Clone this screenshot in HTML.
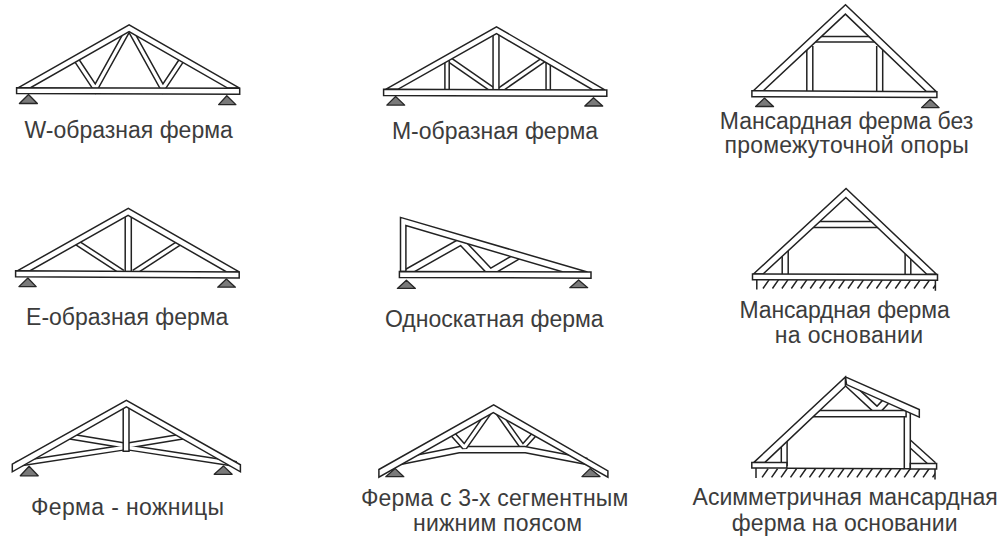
<!DOCTYPE html>
<html><head><meta charset="utf-8"><title>Фермы</title>
<style>html,body{margin:0;padding:0;background:#fff;width:1000px;height:548px;overflow:hidden}svg{display:block}</style>
</head><body>
<svg width="1000" height="548" viewBox="0 0 1000 548">
<polygon points="28.5,94.5 37.4,103.5 19.4,103.5" fill="#7a7a7a" stroke="#262626" stroke-width="1.3" stroke-linejoin="round"/>
<polygon points="226.8,95.8 235.9,104.6 218.6,104.6" fill="#7a7a7a" stroke="#262626" stroke-width="1.3" stroke-linejoin="round"/>
<g fill="none" stroke-linejoin="miter" stroke-miterlimit="10" stroke-linecap="butt"><polyline points="76.2,59.6 95.4,88.5 129.1,27.8" stroke="#222" stroke-width="6.3"/><polyline points="129.1,27.8 162.8,88.5 182,59.6" stroke="#222" stroke-width="6.3"/><polyline points="76.2,59.6 95.4,88.5 129.1,27.8" stroke="#fff" stroke-width="3.3"/><polyline points="129.1,27.8 162.8,88.5 182,59.6" stroke="#fff" stroke-width="3.3"/></g>
<polygon points="18,87.9 129.1,24.85 239.6,88.1 227.63,88.1 129.1,31.7 30.07,87.9" fill="#fff" stroke="#222" stroke-width="1.5" stroke-linejoin="miter" stroke-miterlimit="2"/>
<polygon points="16.6,87.8 239.7,88.2 239.7,94.2 16.6,93.6" fill="#fff" stroke="#222" stroke-width="1.5" stroke-linejoin="miter" stroke-miterlimit="2"/>
<polygon points="395.6,96.5 404.7,105.1 386.8,105.1" fill="#7a7a7a" stroke="#262626" stroke-width="1.3" stroke-linejoin="round"/>
<polygon points="593.5,97.8 602.7,106 584.8,106" fill="#7a7a7a" stroke="#262626" stroke-width="1.3" stroke-linejoin="round"/>
<g fill="none" stroke-linejoin="miter" stroke-miterlimit="10" stroke-linecap="butt"><polyline points="446,57.3 496.5,92.3" stroke="#222" stroke-width="6.3"/><polyline points="547,57.3 496.5,92.3" stroke="#222" stroke-width="6.3"/><polyline points="446,57.3 496.5,92.3" stroke="#fff" stroke-width="3.3"/><polyline points="547,57.3 496.5,92.3" stroke="#fff" stroke-width="3.3"/></g>
<g fill="none" stroke-linejoin="miter" stroke-miterlimit="10" stroke-linecap="butt"><polyline points="447.05,92.5 447.05,58.5" stroke="#222" stroke-width="5.8"/><polyline points="548.2,92.5 548.2,60" stroke="#222" stroke-width="5.8"/><polyline points="447.05,92.5 447.05,58.5" stroke="#fff" stroke-width="2.8"/><polyline points="548.2,92.5 548.2,60" stroke="#fff" stroke-width="2.8"/></g>
<g fill="none" stroke-linejoin="miter" stroke-miterlimit="10" stroke-linecap="butt"><polyline points="496,92.5 496,30" stroke="#222" stroke-width="7.4"/><polyline points="496,92.5 496,30" stroke="#fff" stroke-width="4.4"/></g>
<polygon points="385.6,89.3 496.5,26.8 604.8,89.9 592.96,89.9 496.5,33.7 397.84,89.3" fill="#fff" stroke="#222" stroke-width="1.5" stroke-linejoin="miter" stroke-miterlimit="2"/>
<polygon points="383.6,89.3 606.8,89.9 606.8,96.3 383.6,95.6" fill="#fff" stroke="#222" stroke-width="1.5" stroke-linejoin="miter" stroke-miterlimit="2"/>
<polygon points="764.4,98.1 773.5,106.5 755.6,106.5" fill="#7a7a7a" stroke="#262626" stroke-width="1.3" stroke-linejoin="round"/>
<polygon points="930.3,99.2 939.1,107.6 921.5,107.6" fill="#7a7a7a" stroke="#262626" stroke-width="1.3" stroke-linejoin="round"/>
<g fill="none" stroke-linejoin="miter" stroke-miterlimit="10" stroke-linecap="butt"><polyline points="809.8,94.5 809.8,46" stroke="#222" stroke-width="7.5"/><polyline points="879.7,95 879.7,46" stroke="#222" stroke-width="7.5"/><polyline points="809.8,94.5 809.8,46" stroke="#fff" stroke-width="4.5"/><polyline points="879.7,95 879.7,46" stroke="#fff" stroke-width="4.5"/></g>
<g fill="none" stroke-linejoin="miter" stroke-miterlimit="10" stroke-linecap="butt"><polyline points="813.8,39.25 876.9,39.25" stroke="#222" stroke-width="7.2"/><polyline points="813.8,39.25 876.9,39.25" stroke="#fff" stroke-width="4.2"/></g>
<polygon points="753.4,90.7 845.5,4.8 936.2,91.5 926.37,91.5 845.4,14.1 763.27,90.7" fill="#fff" stroke="#222" stroke-width="1.5" stroke-linejoin="miter" stroke-miterlimit="2"/>
<polygon points="751.9,90.7 936.9,91.8 936.9,97.6 751.9,96.7" fill="#fff" stroke="#222" stroke-width="1.5" stroke-linejoin="miter" stroke-miterlimit="2"/>
<polygon points="27.9,278 36.2,286.6 18.9,286.6" fill="#7a7a7a" stroke="#262626" stroke-width="1.3" stroke-linejoin="round"/>
<polygon points="226.4,279 235.4,287.2 217.7,287.2" fill="#7a7a7a" stroke="#262626" stroke-width="1.3" stroke-linejoin="round"/>
<g fill="none" stroke-linejoin="miter" stroke-miterlimit="10" stroke-linecap="butt"><polyline points="75.3,241.6 122.5,272.4" stroke="#222" stroke-width="6.4"/><polyline points="181.2,241.6 134,272.4" stroke="#222" stroke-width="6.4"/><polyline points="75.3,241.6 122.5,272.4" stroke="#fff" stroke-width="3.4"/><polyline points="181.2,241.6 134,272.4" stroke="#fff" stroke-width="3.4"/></g>
<g fill="none" stroke-linejoin="miter" stroke-miterlimit="10" stroke-linecap="butt"><polyline points="128.25,274.5 128.25,213" stroke="#222" stroke-width="7.6"/><polyline points="128.25,274.5 128.25,213" stroke="#fff" stroke-width="4.6"/></g>
<polygon points="17.7,270.7 128.3,208.3 239.2,271.9 226.62,271.9 128.1,215.4 30.08,270.7" fill="#fff" stroke="#222" stroke-width="1.5" stroke-linejoin="miter" stroke-miterlimit="2"/>
<polygon points="15.6,270.7 239.2,271.9 239.2,277.9 15.6,276.8" fill="#fff" stroke="#222" stroke-width="1.5" stroke-linejoin="miter" stroke-miterlimit="2"/>
<polygon points="406.4,280.2 415.4,288.4 397.4,288.4" fill="#7a7a7a" stroke="#262626" stroke-width="1.3" stroke-linejoin="round"/>
<polygon points="578.6,280 587.7,287.7 569.8,287.7" fill="#7a7a7a" stroke="#262626" stroke-width="1.3" stroke-linejoin="round"/>
<g fill="none" stroke-linejoin="miter" stroke-miterlimit="10" stroke-linecap="butt"><polyline points="403.3,274.3 461.2,241.5 490.3,272.2 519.1,255.3" stroke="#222" stroke-width="7.9"/><polyline points="403.3,274.3 461.2,241.5 490.3,272.2 519.1,255.3" stroke="#fff" stroke-width="4.9"/></g>
<polygon points="400.5,271.6 400.5,217.4 587.4,272 563.1,271.9 405.9,225.6 405.9,271.6" fill="#fff" stroke="#222" stroke-width="1.5" stroke-linejoin="miter" stroke-miterlimit="2"/>
<polygon points="399.4,271.5 591,272 591,278.2 399.4,277.4" fill="#fff" stroke="#222" stroke-width="1.5" stroke-linejoin="miter" stroke-miterlimit="2"/>
<polyline points="756.8,279.7 756.8,289.5" fill="none" stroke="#222" stroke-width="1.5" stroke-linecap="butt"/>
<polyline points="935.4,280.2 935.4,290.8" fill="none" stroke="#222" stroke-width="1.5" stroke-linecap="butt"/>
<clipPath id="hc31"><rect x="0" y="0" width="935.6" height="548"/></clipPath>
<path d="M763,288.5L769,279.9M772.45,288.5L778.45,279.9M781.9,288.5L787.9,279.9M791.35,288.5L797.35,279.9M800.8,288.5L806.8,279.9M810.25,288.5L816.25,279.9M819.7,288.5L825.7,279.9M829.15,288.5L835.15,279.9M838.6,288.5L844.6,279.9M848.05,288.5L854.05,279.9M857.5,288.5L863.5,279.9M866.95,288.5L872.95,279.9M876.4,288.5L882.4,279.9M885.85,288.5L891.85,279.9M895.3,288.5L901.3,279.9M904.75,288.5L910.75,279.9M914.2,288.5L920.2,279.9M923.65,288.5L929.65,279.9M933.1,288.5L939.1,279.9" stroke="#222" stroke-width="1.5" fill="none" clip-path="url(#hc31)"/>
<g fill="none" stroke-linejoin="miter" stroke-miterlimit="10" stroke-linecap="butt"><polyline points="785.2,277 785.2,249.2" stroke="#222" stroke-width="7.5"/><polyline points="907.95,277 907.95,251.6" stroke="#222" stroke-width="7.2"/><polyline points="785.2,277 785.2,249.2" stroke="#fff" stroke-width="4.5"/><polyline points="907.95,277 907.95,251.6" stroke="#fff" stroke-width="4.2"/></g>
<g fill="none" stroke-linejoin="miter" stroke-miterlimit="10" stroke-linecap="butt"><polyline points="811.8,224.6 879.3,224.6" stroke="#222" stroke-width="7.5"/><polyline points="811.8,224.6 879.3,224.6" stroke="#fff" stroke-width="4.5"/></g>
<polygon points="753.5,274 846.05,188.5 936.5,274.3 926.81,274.3 845.85,197.5 763.04,274" fill="#fff" stroke="#222" stroke-width="1.5" stroke-linejoin="miter" stroke-miterlimit="2"/>
<polygon points="752.5,274 937.5,274.6 937.5,280.2 752.5,279.7" fill="#fff" stroke="#222" stroke-width="1.5" stroke-linejoin="miter" stroke-miterlimit="2"/>
<polygon points="29.1,466.3 38.2,475.8 20.3,475.8" fill="#7a7a7a" stroke="#262626" stroke-width="1.3" stroke-linejoin="round"/>
<polygon points="223.4,465.9 232.1,474.3 214.2,474.3" fill="#7a7a7a" stroke="#262626" stroke-width="1.3" stroke-linejoin="round"/>
<g fill="none" stroke-linejoin="miter" stroke-miterlimit="10" stroke-linecap="butt"><polyline points="68.5,436.2 126.1,445.8" stroke="#222" stroke-width="6.6"/><polyline points="184,436.2 126.4,445.8" stroke="#222" stroke-width="6.6"/><polyline points="16,464.1 126.25,447.2 236.5,464.1" stroke="#222" stroke-width="6.4"/><polyline points="68.5,436.2 126.1,445.8" stroke="#fff" stroke-width="3.6"/><polyline points="184,436.2 126.4,445.8" stroke="#fff" stroke-width="3.6"/><polyline points="16,464.1 126.25,447.2 236.5,464.1" stroke="#fff" stroke-width="3.4"/></g>
<polygon points="123.2,404 129,404 129,451.2 123.2,451.2" fill="#fff" stroke="#222" stroke-width="1.5" stroke-linejoin="miter" stroke-miterlimit="2"/>
<polygon points="12.3,464.1 126.4,400.3 240.4,464.8 240.4,471.8 126.4,406.9 12.3,471.8" fill="#fff" stroke="#222" stroke-width="1.5" stroke-linejoin="miter" stroke-miterlimit="4"/>
<polygon points="395,468.4 403.8,476.7 385.8,476.7" fill="#7a7a7a" stroke="#262626" stroke-width="1.3" stroke-linejoin="round"/>
<polygon points="590.1,468.6 600,476.6 581.9,476.6" fill="#7a7a7a" stroke="#262626" stroke-width="1.3" stroke-linejoin="round"/>
<g fill="none" stroke-linejoin="bevel" stroke-miterlimit="10" stroke-linecap="butt"><polyline points="497,411 522.7,447.25 535.7,432.8" stroke="#222" stroke-width="6.2"/><polyline points="497,411 522.7,447.25 535.7,432.8" stroke="#fff" stroke-width="3.2"/></g>
<g fill="none" stroke-linejoin="miter" stroke-miterlimit="10" stroke-linecap="butt"><polyline points="400,461.5 460,449.6 524.5,449.6 587,461.5" stroke="#222" stroke-width="7.6"/><polyline points="400,461.5 460,449.6 524.5,449.6 587,461.5" stroke="#fff" stroke-width="4.6"/></g>
<g fill="none" stroke-linejoin="bevel" stroke-miterlimit="10" stroke-linecap="butt"><polyline points="451.5,432.8 464.5,447.25 490,411" stroke="#222" stroke-width="6.2"/><polyline points="451.5,432.8 464.5,447.25 490,411" stroke="#fff" stroke-width="3.2"/></g>
<polygon points="378.9,469.5 493.65,404.9 607.9,470.9 607.9,477.1 493.3,412.6 378.9,477.2" fill="#fff" stroke="#222" stroke-width="1.5" stroke-linejoin="miter" stroke-miterlimit="4"/>
<polyline points="756,467.9 756,477.9" fill="none" stroke="#222" stroke-width="1.5" stroke-linecap="butt"/>
<polyline points="935,469 935,479.6" fill="none" stroke="#222" stroke-width="1.5" stroke-linecap="butt"/>
<clipPath id="hc50"><rect x="0" y="0" width="935.2" height="548"/></clipPath>
<path d="M762.1,477.4L768.1,468.7M771.57,477.4L777.57,468.7M781.04,477.4L787.04,468.7M790.51,477.4L796.51,468.7M799.98,477.4L805.98,468.7M809.45,477.4L815.45,468.7M818.92,477.4L824.92,468.7M828.39,477.4L834.39,468.7M837.86,477.4L843.86,468.7M847.33,477.4L853.33,468.7M856.8,477.4L862.8,468.7M866.27,477.4L872.27,468.7M875.74,477.4L881.74,468.7M885.21,477.4L891.21,468.7M894.68,477.4L900.68,468.7M904.15,477.4L910.15,468.7M913.62,477.4L919.62,468.7M923.09,477.4L929.09,468.7M932.56,477.4L938.56,468.7" stroke="#222" stroke-width="1.5" fill="none" clip-path="url(#hc50)"/>
<polyline points="786.8,468.3 904.3,468.8" fill="none" stroke="#222" stroke-width="1.5" stroke-linecap="butt"/>
<g fill="none" stroke-linejoin="miter" stroke-miterlimit="10" stroke-linecap="butt"><polyline points="907.5,441.5 933.5,465" stroke="#222" stroke-width="7.5"/><polyline points="907.5,441.5 933.5,465" stroke="#fff" stroke-width="4.5"/></g>
<g fill="none" stroke-linejoin="miter" stroke-miterlimit="10" stroke-linecap="butt"><polyline points="784.2,466 784.2,440" stroke="#222" stroke-width="7.3"/><polyline points="784.2,466 784.2,440" stroke="#fff" stroke-width="4.3"/></g>
<polygon points="904.3,407 910.3,407 910.3,468.8 904.3,468.8" fill="#fff" stroke="#222" stroke-width="1.5" stroke-linejoin="miter" stroke-miterlimit="2"/>
<g fill="none" stroke-linejoin="miter" stroke-miterlimit="10" stroke-linecap="butt"><polyline points="847.5,383.3 877.2,410.8 887.7,399.6" stroke="#222" stroke-width="8"/><polyline points="847.5,383.3 877.2,410.8 887.7,399.6" stroke="#fff" stroke-width="5"/></g>
<polygon points="811,410.5 906.1,410.5 906.1,416.7 811,416.7" fill="#fff" stroke="#222" stroke-width="1.5" stroke-linejoin="miter" stroke-miterlimit="2"/>
<polygon points="845.4,376.9 919.3,409.6 919.3,417.1 846.6,384.6" fill="#fff" stroke="#222" stroke-width="1.5" stroke-linejoin="miter" stroke-miterlimit="2"/>
<polygon points="753.9,462.4 845.4,376.9 845.4,386.3 764.9,462.4" fill="#fff" stroke="#222" stroke-width="1.5" stroke-linejoin="miter" stroke-miterlimit="2.6"/>
<polygon points="751.8,462.4 786.9,462.4 786.9,467.9 751.8,467.9" fill="#fff" stroke="#222" stroke-width="1.5" stroke-linejoin="miter" stroke-miterlimit="2"/>
<polygon points="910.3,463.4 936.6,463.4 936.6,469 910.3,469" fill="#fff" stroke="#222" stroke-width="1.5" stroke-linejoin="miter" stroke-miterlimit="2"/>
<g font-family="&quot;Liberation Sans&quot;, sans-serif" font-size="23" fill="#3c3c3c" text-anchor="middle">
<text x="128.7" y="137.8">W-образная ферма</text>
<text x="495" y="139.4">М-образная ферма</text>
<text x="846.5" y="129.3" textLength="253.4" lengthAdjust="spacing">Мансардная ферма без</text>
<text x="846.6" y="152.7" textLength="244.3" lengthAdjust="spacing">промежуточной опоры</text>
<text x="127.2" y="324.9">Е-образная ферма</text>
<text x="494.3" y="327.2">Односкатная ферма</text>
<text x="844.6" y="317.9" textLength="210.3" lengthAdjust="spacing">Мансардная ферма</text>
<text x="849" y="342.7" textLength="148.3" lengthAdjust="spacing">на основании</text>
<text x="127.5" y="514.8" textLength="193.1" lengthAdjust="spacing">Ферма - ножницы</text>
<text x="494.6" y="506" textLength="267.3" lengthAdjust="spacing">Ферма с 3-х сегментным</text>
<text x="497.6" y="531.3" textLength="169.1" lengthAdjust="spacing">нижним поясом</text>
<text x="845.15" y="505.4">Асимметричная мансардная</text>
<text x="844.65" y="531.2" textLength="225.7" lengthAdjust="spacing">ферма на основании</text>
</g>
</svg>
</body></html>
